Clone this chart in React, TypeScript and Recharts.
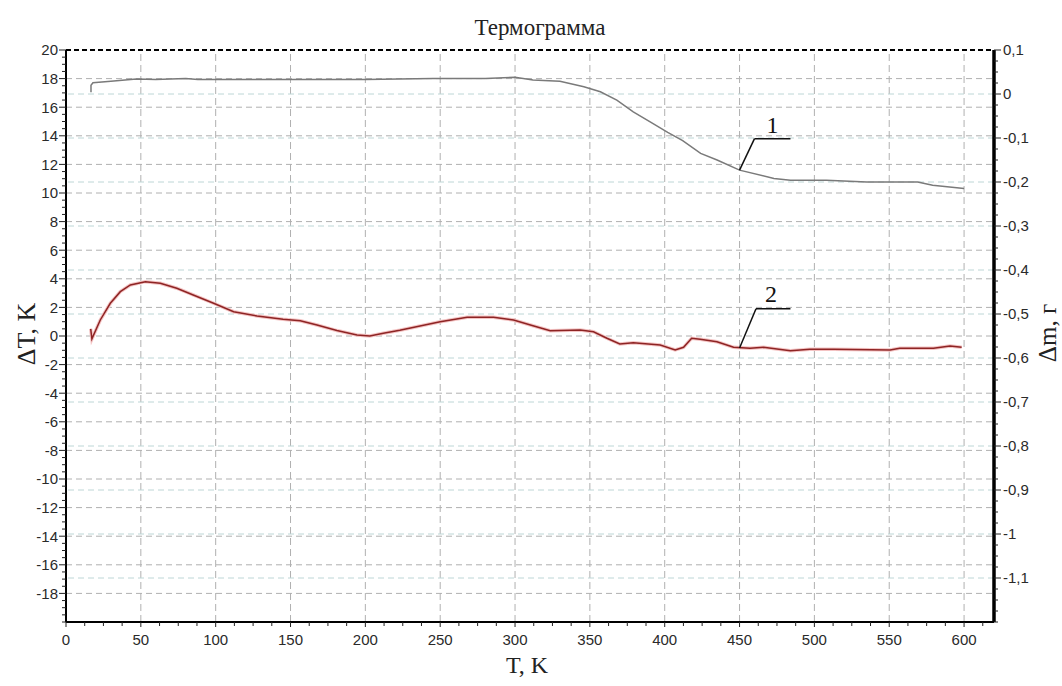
import React from "react";
import { LineChart, Line, XAxis, YAxis, ReferenceLine, ReferenceDot } from "recharts";

// curve 1: mass change (right axis, g)
const TG_T = [16.7, 16.7, 18, 30, 47, 60, 80, 88, 100, 150, 200, 245, 280, 300, 312, 330, 346, 357, 368, 379, 390, 402, 412, 424, 435, 450, 473, 484, 508, 535, 569, 579, 600];
const TG_M = [0.004, 0.02, 0.0255, 0.029, 0.034, 0.033, 0.035, 0.033, 0.033, 0.033, 0.033, 0.0355, 0.0355, 0.038, 0.032, 0.029, 0.0164, 0.005, -0.014, -0.0405, -0.063, -0.087, -0.106, -0.135, -0.15, -0.173, -0.192, -0.196, -0.196, -0.2, -0.2, -0.2075, -0.215];

// curve 2: ΔT (left axis, K)
const DTA_T = [16.5, 17.3, 22.9, 29.6, 36.3, 43, 53, 63, 74, 85, 98.6, 112, 127.6, 145, 156.5, 167.7, 181, 194.4, 203, 212, 223, 250, 268, 285.6, 299, 312, 323.5, 343.5, 352.4, 361.4, 370, 379, 397, 407, 412.6, 418, 423.7, 434.9, 446, 457, 466, 484, 497, 512.8, 550.6, 557, 579.6, 590.6, 598.4];
const DTA_V = [0.5, -0.2, 1.12, 2.29, 3.1, 3.57, 3.8, 3.69, 3.34, 2.87, 2.29, 1.7, 1.4, 1.17, 1.07, 0.77, 0.38, 0.07, 0.0, 0.19, 0.4, 1.0, 1.31, 1.31, 1.12, 0.72, 0.37, 0.42, 0.3, -0.16, -0.56, -0.47, -0.63, -0.98, -0.79, -0.16, -0.22, -0.4, -0.79, -0.86, -0.79, -1.03, -0.93, -0.93, -0.98, -0.86, -0.86, -0.7, -0.79];

const X_MAJOR = [0, 50, 100, 150, 200, 250, 300, 350, 400, 450, 500, 550, 600];
const LEFT_MAJOR = [-18, -16, -14, -12, -10, -8, -6, -4, -2, 0, 2, 4, 6, 8, 10, 12, 14, 16, 18, 20];
const RIGHT_MAJOR = [0.1, 0, -0.1, -0.2, -0.3, -0.4, -0.5, -0.6, -0.7, -0.8, -0.9, -1, -1.1];

// minor ticks: 4 per major step
const X_TICKS = Array.from({ length: 50 }, (_, k) => k * 12.5);
const LEFT_TICKS = Array.from({ length: 81 }, (_, k) => -20 + k * 0.5);
const RIGHT_TICKS = Array.from({ length: 53 }, (_, k) => Math.round((0.1 - k * 0.025) * 1000) / 1000);

const tgData = TG_T.map((t, i) => ({ t, m: TG_M[i] }));
const dtaData = DTA_T.map((t, i) => ({ t, v: DTA_V[i] }));

const SANS = "'Liberation Sans', Arial, sans-serif";
const SERIF = "'Liberation Serif', 'Times New Roman', serif";

const isMajorRight = (v: number) => RIGHT_MAJOR.some((m) => Math.abs(m - v) < 1e-6);
const fmtRight = (v: number) => String(Math.round(v * 10) / 10).replace(".", ",");

const LeftTick = ({ x, y, payload }: any) => {
  const major = LEFT_MAJOR.includes(payload.value);
  return (
    <g>
      <line x1={x - (major ? 7 : 4)} x2={x} y1={y} y2={y} stroke="#222" strokeWidth={1} />
      {major && (
        <text x={x - 8} y={y} dy="0.36em" textAnchor="end" fontSize={15} fontFamily={SANS} fill="#2a2a2a">
          {payload.value}
        </text>
      )}
    </g>
  );
};

const RightTick = ({ x, y, payload }: any) => {
  const major = isMajorRight(payload.value);
  return (
    <g>
      <line x1={x} x2={x + (major ? 7 : 4)} y1={y} y2={y} stroke="#222" strokeWidth={1} />
      {major && (
        <text x={x + 9} y={y} dy="0.36em" textAnchor="start" fontSize={15} fontFamily={SANS} fill="#2a2a2a">
          {fmtRight(payload.value)}
        </text>
      )}
    </g>
  );
};

const BottomTick = ({ x, y, payload }: any) => {
  const major = payload.value % 50 === 0;
  return (
    <g>
      <line x1={x} x2={x} y1={y} y2={y + (major ? 5 : 4)} stroke="#222" strokeWidth={1} />
      {major && (
        <text x={x} y={y + 23} textAnchor="middle" fontSize={15} fontFamily={SANS} fill="#2a2a2a">
          {payload.value}
        </text>
      )}
    </g>
  );
};

export default function App() {
  return (
    <div style={{ position: "absolute", left: 0, top: 0, width: 1062, height: 686, background: "#fff" }}>
      <LineChart width={1062} height={686} margin={{ top: 50, right: 0, bottom: 0, left: 0 }}>
        <XAxis
          type="number"
          dataKey="t"
          domain={[0, 620]}
          ticks={X_TICKS}
          interval={0}
          tickSize={0}
          tickMargin={0}
          tick={<BottomTick />}
          axisLine={{ stroke: "#000", strokeWidth: 2 }}
          height={64}
          allowDataOverflow
        />
        <YAxis
          yAxisId="left"
          type="number"
          domain={[-20, 20]}
          ticks={LEFT_TICKS}
          interval={0}
          tickSize={0}
          tickMargin={0}
          tick={<LeftTick />}
          axisLine={{ stroke: "#000", strokeWidth: 2 }}
          width={66}
          allowDataOverflow
        />
        <YAxis
          yAxisId="right"
          orientation="right"
          type="number"
          domain={[-1.2, 0.1]}
          ticks={RIGHT_TICKS}
          interval={0}
          tickSize={0}
          tickMargin={0}
          tick={<RightTick />}
          axisLine={{ stroke: "#000", strokeWidth: 3.5 }}
          width={68}
          allowDataOverflow
        />

        {/* grid */}
        {X_MAJOR.filter((v) => v > 0).map((v) => (
          <ReferenceLine key={"gx" + v} x={v} yAxisId="left" stroke="#b0b0b0" strokeDasharray="7 4" />
        ))}
        {RIGHT_MAJOR.filter((v) => v < 0.1).map((v) => (
          <ReferenceLine key={"gr" + v} y={v} yAxisId="right" stroke="#bdd6d6" strokeDasharray="6 4" />
        ))}
        {LEFT_MAJOR.filter((v) => v < 20).map((v) => (
          <ReferenceLine key={"gl" + v} y={v} yAxisId="left" stroke="#b0b0b0" strokeDasharray="6 4" />
        ))}
        <ReferenceLine y={20} yAxisId="left" stroke="#000" strokeWidth={2} strokeDasharray="5 3" />

        <Line
          data={dtaData}
          dataKey="v"
          yAxisId="left"
          type="linear"
          stroke="#f4c4c4"
          strokeWidth={3.5}
          dot={false}
          isAnimationActive={false}
        />
        <Line
          data={dtaData}
          dataKey="v"
          yAxisId="left"
          type="linear"
          stroke="#8e2424"
          strokeWidth={1.5}
          dot={false}
          isAnimationActive={false}
        />
        <Line
          data={tgData}
          dataKey="m"
          yAxisId="right"
          type="linear"
          stroke="#7a7a7a"
          strokeWidth={1.5}
          dot={false}
          isAnimationActive={false}
        />

        {/* curve labels */}
        <ReferenceLine yAxisId="left" segment={[{ x: 450, y: 11.6 }, { x: 460, y: 13.8 }]} stroke="#111" strokeWidth={1.5} />
        <ReferenceLine yAxisId="left" segment={[{ x: 460, y: 13.8 }, { x: 484, y: 13.8 }]} stroke="#111" strokeWidth={1.5} />
        <ReferenceDot
          yAxisId="left"
          x={472}
          y={14.76}
          r={0}
          stroke="none"
          label={{ value: "1", position: "center", fontSize: 24, fontFamily: SERIF, fill: "#111" }}
        />
        <ReferenceLine yAxisId="left" segment={[{ x: 450, y: -0.84 }, { x: 461, y: 1.9 }]} stroke="#111" strokeWidth={1.5} />
        <ReferenceLine yAxisId="left" segment={[{ x: 461, y: 1.9 }, { x: 484, y: 1.9 }]} stroke="#111" strokeWidth={1.5} />
        <ReferenceDot
          yAxisId="left"
          x={471}
          y={3.0}
          r={0}
          stroke="none"
          label={{ value: "2", position: "center", fontSize: 24, fontFamily: SERIF, fill: "#111" }}
        />

        {/* titles */}
        <text x={540} y={35} textAnchor="middle" fontSize={23} fontFamily={SERIF} fill="#222">
          Термограмма
        </text>
        <text x={527} y={673} textAnchor="middle" fontSize={24} fontFamily={SERIF} fill="#222">
          T, K
        </text>
        <text transform="translate(35, 334) rotate(-90)" textAnchor="middle" fontSize={26} fontFamily={SERIF} fill="#222">
          ΔT, K
        </text>
        <text transform="translate(1056, 333) rotate(-90)" textAnchor="middle" fontSize={25} fontFamily={SERIF} fill="#222">
          Δm, г
        </text>
      </LineChart>
    </div>
  );
}
